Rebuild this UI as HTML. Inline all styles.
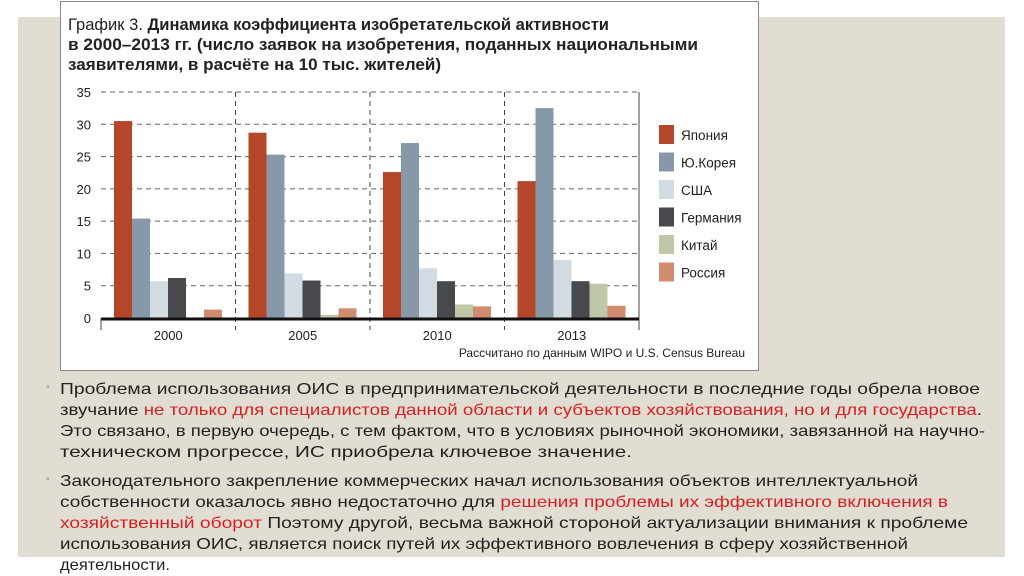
<!DOCTYPE html>
<html><head><meta charset="utf-8"><style>
body{margin:0;width:1024px;height:574px;background:#fff;position:relative;overflow:hidden;font-family:"Liberation Sans","Noto Sans CJK SC",sans-serif}
#panel{position:absolute;left:18px;top:17px;width:987px;height:540px;background:#e2ddd3}
#card{position:absolute;left:60px;top:1px;width:697px;height:368px;background:#fff;border:1px solid #888}
.ln{position:absolute;left:60px;font-size:16px;line-height:20px;color:#222;white-space:nowrap;transform-origin:0 0}
.b{position:absolute;left:46px;font-size:10px;color:#555}
.r{color:#d82020}
</style></head><body>
<div id="panel"></div>
<div id="card">
<svg width="697" height="368" id="svg">
<text x="7" y="28" font-size="17" font-weight="bold" fill="#222" textLength="541" lengthAdjust="spacingAndGlyphs"><tspan font-weight="normal">График 3.</tspan> Динамика коэффициента изобретательской активности</text>
<text x="7" y="48" font-size="17" font-weight="bold" fill="#222" textLength="630" lengthAdjust="spacingAndGlyphs">в 2000–2013 гг. (число заявок на изобретения, поданных национальными</text>
<text x="7" y="68" font-size="17" font-weight="bold" fill="#222" textLength="373" lengthAdjust="spacingAndGlyphs">заявителями, в расчёте на 10 тыс. жителей)</text>
<text x="684" y="355" font-size="12" text-anchor="end" fill="#222">Рассчитано по данным WIPO и U.S. Census Bureau</text>
</svg></div>
<div>
<span class="b" style="top:382px">◦</span>
<div class="ln" data-w="920" style="top:380px">Проблема использования ОИС в предпринимательской деятельности в последние годы обрела новое</div>
<div class="ln" data-w="922" style="top:401px">звучание <span class="r">не только для специалистов данной области и субъектов хозяйствования, но и для государства</span>.</div>
<div class="ln" data-w="925" style="top:422px">Это связано, в первую очередь, с тем фактом, что в условиях рыночной экономики, завязанной на научно-</div>
<div class="ln" data-w="572" style="top:443px">техническом прогрессе, ИС приобрела ключевое значение.</div>
</div>
<div>
<span class="b" style="top:474px">◦</span>
<div class="ln" data-w="858" style="top:472px">Законодательного закрепление коммерческих начал использования объектов интеллектуальной</div>
<div class="ln" data-w="888" style="top:493px">собственности оказалось явно недостаточно для <span class="r">решения проблемы их эффективного включения в</span></div>
<div class="ln" data-w="908" style="top:514px"><span class="r">хозяйственный оборот</span> Поэтому другой, весьма важной стороной актуализации внимания к проблеме</div>
<div class="ln" data-w="848" style="top:535px">использования ОИС, является поиск путей их эффективного вовлечения в сферу хозяйственной</div>
<div class="ln" data-w="110" style="top:556px">деятельности.</div>
</div>
<script>
document.querySelectorAll('.ln').forEach(d=>{const w=d.getBoundingClientRect().width;d.style.transform='scaleX('+(+d.dataset.w/w)+')';});
const years=["2000","2005","2010","2013"];
const seriesNames=["Япония","Ю.Корея","США","Германия","Китай","Россия"];
const japan=[30.5,28.7,22.6,21.2];
const korea=[15.4,25.3,27.1,32.5];
const usa=[5.7,6.9,7.7,9.0];
const germany=[6.2,5.8,5.7,5.7];
const china=[0.1,0.5,2.1,5.3];
const russia=[1.3,1.5,1.8,1.9];
const yTicks=[0,5,10,15,20,25,30,35];
const colors=["#b5462a","#8799a8","#d3dbe2","#48494d","#bfc7a9","#d18b6f"];
const series=[japan,korea,usa,germany,china,russia];
const svg=document.getElementById('svg'),NS="http://www.w3.org/2000/svg";
const X0=40,X1=578,Y0=316,PX=226/35,GW=(X1-X0)/years.length,BW=18;
const y=v=>Y0-v*PX, gx=i=>X0+i*GW;
function mk(t,a){const e=document.createElementNS(NS,t);for(const k in a)e.setAttribute(k,a[k]);svg.appendChild(e);return e;}
yTicks.forEach(t=>{
 const l=mk('line',{x1:X0,x2:X1,y1:y(t),y2:y(t),stroke:'#666','stroke-dasharray':'5,4','stroke-width':1});
 
 
 const tx=mk('text',{x:30,y:y(t)+5,'font-size':13,'text-anchor':'end',fill:'#222'});tx.textContent=t;
 
 
});
for(let i=1;i<=years.length;i++){
 const l=mk('line',{x1:gx(i),x2:gx(i),y1:y(35),y2:Y0+12,stroke:'#444','stroke-dasharray':i<years.length?'5,4':'none'});
 
 
}
years.forEach((yr,i)=>{
 series.forEach((s,j)=>{
  const r=mk('rect',{x:gx(i)+13+j*BW,y:y(s[i]),width:BW,height:s[i]*PX,fill:colors[j]});
  
  
 });
 const t=mk('text',{x:gx(i)+GW/2,y:Y0+22,'font-size':13,'text-anchor':'middle',fill:'#222'});t.textContent=yr;
 
 
});
const ax=mk('line',{x1:X0,x2:X1,y1:Y0+1,y2:Y0+1,stroke:'#111','stroke-width':3});


const al=mk('line',{x1:X0,x2:X0,y1:Y0,y2:Y0+12,stroke:'#444'});


seriesNames.forEach((n,j)=>{
 const yy=123+j*27.5;
 const r=mk('rect',{x:598,y:yy,width:15,height:19,fill:colors[j]});
 
 
 const t=mk('text',{x:620,y:yy+15,'font-size':13.5,fill:'#222'});t.textContent=n;
 
 
});
</script>
</body></html>
